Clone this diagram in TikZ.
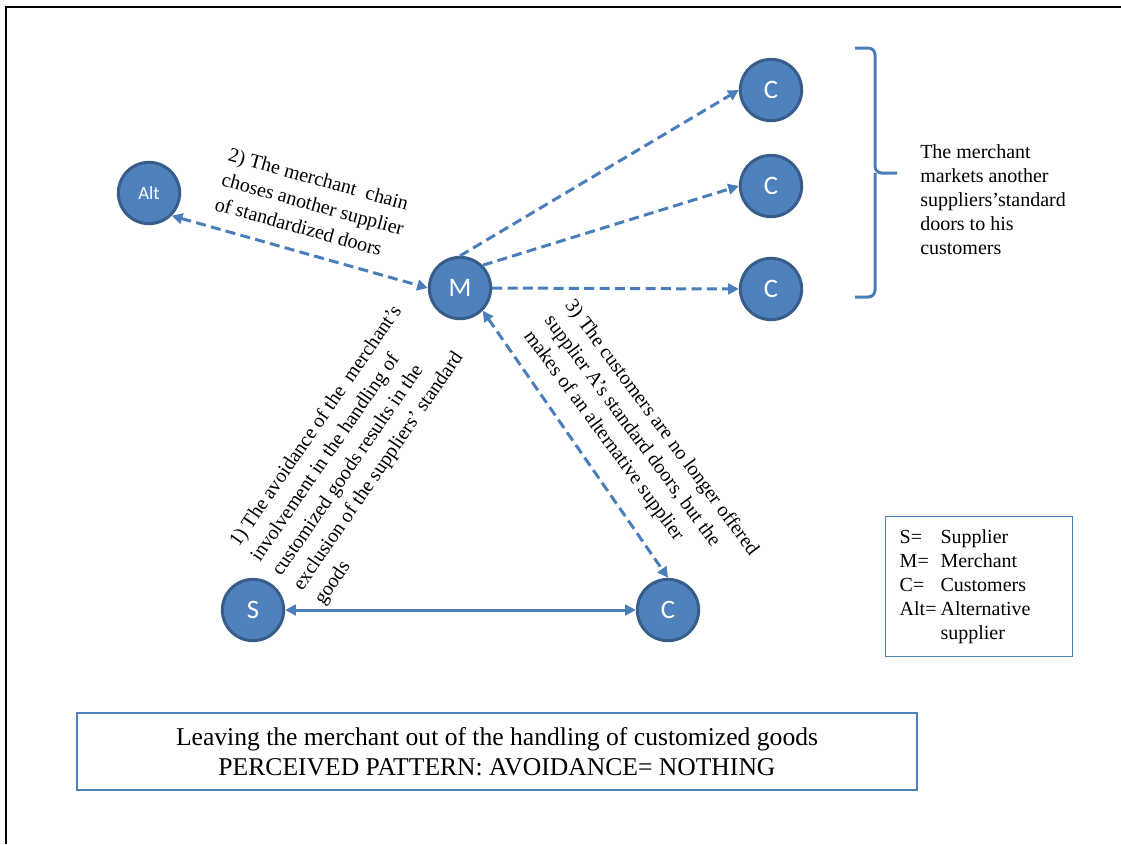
\documentclass[tikz,border=0pt]{standalone}
\usepackage{fontspec}
\setmainfont{Liberation Serif}
\newfontfamily\circfont{Carlito}
\usetikzlibrary{arrows.meta}
\definecolor{nodefill}{HTML}{4F81BD}
\definecolor{noderim}{HTML}{385D8A}
\definecolor{linkblue}{HTML}{4A7EBB}
\begin{document}
\begin{tikzpicture}[x=0.75pt,y=-0.75pt,
  >={Triangle[length=8pt,width=8pt]},
  actor/.style={circle,fill=nodefill,draw=noderim,line width=2.25pt,
    minimum size=46pt,inner sep=0pt,text=white,
    font=\circfont\fontsize{20}{20}\selectfont},
  link/.style={draw=linkblue,line width=2.25pt},
  dashlink/.style={link,dash pattern=on 7.5pt off 4pt},
  note/.style={font=\fontsize{15}{18}\selectfont,align=left,inner sep=0pt},
  slanted/.style={note,font=\fontsize{15}{19.2}\selectfont,anchor=north west},
  infobox/.style={draw=nodefill,line width=1.1pt}
]
\useasboundingbox (0,0) rectangle (1121,844);

% page frame (top and left edges)
\draw[line width=1.5pt] (6,844) -- (6,7) -- (1121,7);

% actors
\node[actor,font=\circfont\fontsize{14}{14}\selectfont] (Alt) at (149,193) {Alt};
\node[actor] (M)  at (460,288) {M};
\node[actor] (C1) at (771,90)  {C};
\node[actor] (C2) at (771,186) {C};
\node[actor] (C3) at (771,289) {C};
\node[actor] (S)  at (253,610) {S};
\node[actor] (Cb) at (668,610) {C};

% connectors
\draw[dashlink,<->] (Alt.south east) -- (M.west);
\draw[dashlink,->] (M.north) -- (C1.west);
\draw[dashlink,->] (M.north east) -- (C2.west);
\draw[dashlink,->] (M.east) -- (C3.west);
\draw[dashlink,<->] (M.south east) -- (Cb.north);
\draw[link,<->] (S.east) -- (Cb.west);

% brace grouping the customers
\coordinate (braceTip) at (897,173);
\draw[link,rounded corners=5pt] (855,48) -| (875,173) -- (braceTip);
\draw[link,rounded corners=5pt] (855,297) -| (875,173);

% labels
\node[slanted,rotate=-15.5] (lab2) at (231,147)
  {2) The merchant~ chain\\choses another supplier\\of standardized doors};
\node[slanted,rotate=55.5] (lab1) at (227,540)
  {1) The avoidance of the~ merchant’s\\involvement in the handling of\\customized goods results in the\\exclusion of the suppliers’ standard\\goods};
\node[slanted,rotate=-53.5] (lab3) at (576,297)
  {3) The customers are no longer offered\\supplier A’s standard doors, but the\\makes of an alternative supplier};
\node[note,anchor=north west] (brace) at (920,144)
  {The merchant\\markets another\\suppliers’standard\\doors to his\\customers};

% legend
\node[infobox,anchor=north west,inner xsep=10.5pt,inner ysep=7.5pt,
  text width=119pt,font=\fontsize{15}{18}\selectfont] (legend) at (885,516)
  {\begin{tabular}{@{}l@{\hspace{3pt}}l@{}}
   S= & Supplier\\
   M= & Merchant\\
   C= & Customers\\
   Alt= & Alternative\\
        & supplier
   \end{tabular}};

% caption box
\node[infobox,minimum width=630pt,minimum height=57.75pt,align=center,
  font=\fontsize{19.2}{22.5}\selectfont] (caption) at (497,751.5)
  {Leaving the merchant out of the handling of customized goods\\
   PERCEIVED PATTERN: AVOIDANCE= NOTHING};
\end{tikzpicture}
\end{document}
